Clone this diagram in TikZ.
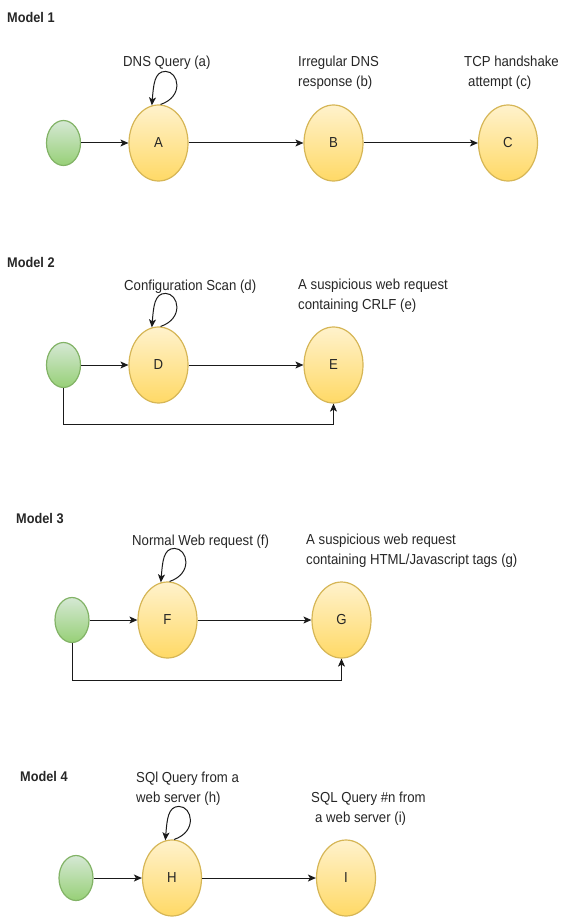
\documentclass[tikz,border=0pt]{standalone}
\usepackage{fontspec}
\setmainfont{Liberation Sans}
\newfontfamily\lab[FakeStretch=0.91]{Liberation Sans}
\usetikzlibrary{shapes.geometric,arrows.meta,calc}
\definecolor{gtop}{HTML}{D5E8D4}
\definecolor{gbot}{HTML}{97D077}
\definecolor{gline}{HTML}{82B366}
\definecolor{ytop}{HTML}{FFF2CC}
\definecolor{ybot}{HTML}{FFD966}
\definecolor{yline}{HTML}{D6B656}
\definecolor{txt}{HTML}{262626}
\definecolor{lin}{HTML}{1A1A1A}
\newcommand{\selfloop}[1]{%
  \draw[arr] (#1.87) .. controls ($(#1.north)+(26,-8)$) and ($(#1.north)+(20,-33)$) .. ($(#1.north)+(7,-33)$)
    .. controls ($(#1.north)+(-4,-33)$) and ($(#1.north)+(-5,-20)$) .. (#1.100);}
\begin{document}
\begin{tikzpicture}[x=1pt,y=-1pt,
  startst/.style={ellipse, draw=gline, line width=1.2pt, top color=gtop, bottom color=gbot,
    minimum width=34pt, minimum height=45pt, inner sep=0pt},
  statest/.style={ellipse, draw=yline, line width=1.2pt, top color=ytop, bottom color=ybot,
    minimum width=59pt, minimum height=76pt, inner sep=0pt,
    font=\lab\fontsize{14.5}{17}\selectfont, text=txt},
  lbl/.style={anchor=base west, inner sep=0pt, align=left,
    font=\lab\fontsize{14.5}{20}\selectfont, text=txt},
  ttl/.style={anchor=base west, inner sep=0pt, font=\lab\bfseries\fontsize{14}{17}\selectfont, text=txt},
  arr/.style={draw=lin, line width=1pt, -{Stealth[length=8pt,width=7pt,inset=2pt]}}
]
\useasboundingbox (0,0) rectangle (560,917);

% Model 1
\node[ttl] (t1) at (7,23) {Model 1};
\node[startst] (s1) at (63.5,143) {};
\node[statest] (A) at (158.5,143) {A};
\node[statest] (B) at (333.5,143) {B};
\node[statest] (C) at (508,143) {C};
\node[lbl] (la) at (123,67) {DNS Query (a)};
\node[lbl] (lb) at (298,87) {Irregular DNS\\response (b)};
\node[lbl] (lc) at (464,87) {TCP handshake\\\hspace{4pt}attempt (c)};
\draw[arr] (s1) -- (A);
\draw[arr] (A) -- (B);
\draw[arr] (B) -- (C);
\selfloop{A}

% Model 2
\node[ttl] (t2) at (7,267) {Model 2};
\node[startst] (s2) at (63.5,365) {};
\node[statest] (D) at (158.5,365) {D};
\node[statest] (E) at (333.5,365) {E};
\node[lbl] (ld) at (124,290) {Configuration Scan (d)};
\node[lbl] (le) at (298,309) {A suspicious web request\\containing CRLF (e)};
\draw[arr] (s2) -- (D);
\draw[arr] (D) -- (E);
\draw[arr] (s2.south) -- ++(0,36) -| (E.south);
\selfloop{D}

% Model 3
\node[ttl] (t3) at (16,523) {Model 3};
\node[startst] (s3) at (72,620) {};
\node[statest] (F) at (167.5,620) {F};
\node[statest] (G) at (341.5,620) {G};
\node[lbl] (lf) at (132,545) {Normal Web request (f)};
\node[lbl] (lg) at (306,564) {A suspicious web request\\containing HTML/Javascript tags (g)};
\draw[arr] (s3) -- (F);
\draw[arr] (F) -- (G);
\draw[arr] (s3.south) -- ++(0,37.5) -| (G.south);
\selfloop{F}

% Model 4
\node[ttl] (t4) at (20,781) {Model 4};
\node[startst] (s4) at (76,878) {};
\node[statest] (H) at (172,878) {H};
\node[statest] (I) at (346,878) {I};
\node[lbl] (lh) at (136,802) {SQl Query from a\\web server (h)};
\node[lbl] (li) at (311,822) {SQL Query \#n from\\\hspace{4pt}a web server (i)};
\draw[arr] (s4) -- (H);
\draw[arr] (H) -- (I);
\selfloop{H}
\end{tikzpicture}
\end{document}
